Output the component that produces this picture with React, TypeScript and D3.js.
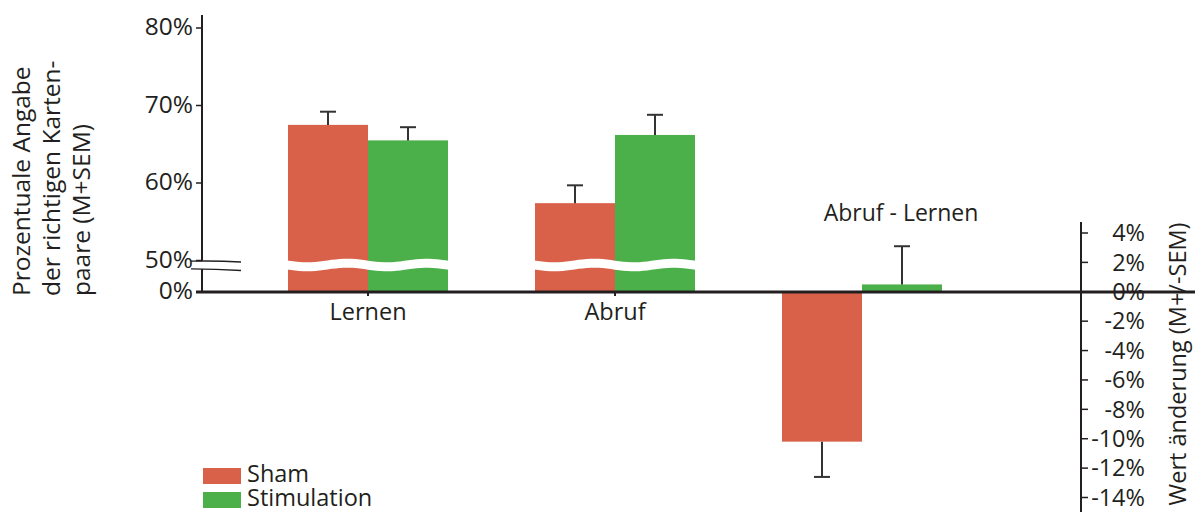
import React from "react";
import * as d3 from "d3";

const categories = ["Lernen", "Abruf"];
const diffCategory = "Abruf - Lernen";
const shamMeans = [67.5, 57.4];
const shamSem = [1.7, 2.3];
const stimMeans = [65.5, 66.2];
const stimSem = [1.7, 2.6];
const diffMeans = [-10.2, 0.5]; // Sham, Stimulation
const diffSem = [2.4, 2.6];
const leftTicks = [50, 60, 70, 80];
const rightTicks = [4, 2, 0, -2, -4, -6, -8, -10, -12, -14];
const seriesNames = ["Sham", "Stimulation"];
const colors = ["#d9614a", "#4bb04a"];

const W = 1195;
const H = 512;
const FONT = "'Open Sans', sans-serif";
const INK = "#231f20";

export default function App() {
  const xAxis = 202;
  const baseY = 292;
  const barW = 80;
  const x = d3.scalePoint<string>().domain([...categories, diffCategory]).range([368, 862]);
  const yL = d3.scaleLinear().domain([50, 80]).range([260.5, 28]);
  const yR = d3.scaleLinear().domain([-14, 4]).range([497.5, 233]);
  const rightX = 1081;

  const wave = (x0: number, x1: number, yTop: number, yBot: number) => {
    const pts: [number, number][] = [];
    const n = 40;
    for (let i = 0; i <= n; i++) {
      const xx = x0 + ((x1 - x0) * i) / n;
      pts.push([xx, yTop + 1.8 * Math.sin(((xx - x0) / 80) * Math.PI * 2)]);
    }
    for (let i = n; i >= 0; i--) {
      const xx = x0 + ((x1 - x0) * i) / n;
      pts.push([xx, yBot + 1.8 * Math.sin(((xx - x0) / 80) * Math.PI * 2)]);
    }
    return d3.line()(pts) + "Z";
  };

  const errBar = (cx: number, y0: number, y1: number, key: string) => (
    <g key={key} stroke="#333" strokeWidth={2}>
      <line x1={cx} x2={cx} y1={y0} y2={y1} />
      <line x1={cx - 8} x2={cx + 8} y1={y1} y2={y1} />
    </g>
  );

  return (
    <svg width={W} height={H} style={{ position: "absolute", left: 0, top: 0 }} fontFamily={FONT}>
      <rect width={W} height={H} fill="#fff" />
      {/* left bars */}
      {categories.map((c, i) => {
        const cx = x(c)!;
        return (
          <g key={c}>
            <rect x={cx - barW} y={yL(shamMeans[i])} width={barW} height={baseY - yL(shamMeans[i])} fill={colors[0]} />
            <rect x={cx} y={yL(stimMeans[i])} width={barW} height={baseY - yL(stimMeans[i])} fill={colors[1]} />
            <path d={wave(cx - barW - 1, cx + barW + 1, 260.5, 269.5)} fill="#fff" />
            {errBar(cx - barW / 2, yL(shamMeans[i]), yL(shamMeans[i] + shamSem[i]), "s" + i)}
            {errBar(cx + barW / 2, yL(stimMeans[i]), yL(stimMeans[i] + stimSem[i]), "t" + i)}
          </g>
        );
      })}
      {/* diff bars */}
      {(() => {
        const cx = x(diffCategory)!;
        return (
          <g>
            {diffMeans.map((v, i) => {
              const bx = i === 0 ? cx - barW : cx;
              return (
                <rect key={i} x={bx} y={Math.min(yR(v), yR(0))} width={barW} height={Math.abs(yR(v) - yR(0))} fill={colors[i]} />
              );
            })}
            {diffMeans.map((v, i) => {
              const bx = (i === 0 ? cx - barW : cx) + barW / 2;
              const end = v < 0 ? v - diffSem[i] : v + diffSem[i];
              return errBar(bx, yR(v), yR(end), "d" + i);
            })}
            <text x={cx + 39} y={221} textAnchor="middle" fontSize={23} fill={INK}>{diffCategory}</text>
          </g>
        );
      })()}
      {/* zero line */}
      <line x1={196} x2={W} y1={baseY} y2={baseY} stroke={INK} strokeWidth={3} />
      {/* category ticks & labels */}
      {categories.map((c) => (
        <g key={c}>
          <line x1={x(c)!} x2={x(c)!} y1={baseY} y2={baseY + 4} stroke={INK} strokeWidth={2} />
          <text x={x(c)!} y={320} textAnchor="middle" fontSize={23.5} fill={INK}>{c}</text>
        </g>
      ))}
      {/* left axis */}
      <line x1={xAxis} x2={xAxis} y1={15} y2={261} stroke={INK} strokeWidth={2} />
      <line x1={xAxis} x2={xAxis} y1={269} y2={baseY} stroke={INK} strokeWidth={2} />
      <path d="M191,261.2 Q216,260.6 241,262" fill="none" stroke={INK} strokeWidth={1.3} />
      <path d="M191,268.8 Q216,269 241,270.5" fill="none" stroke={INK} strokeWidth={1.3} />
      {leftTicks.map((t) => (
        <g key={t}>
          <line x1={xAxis - 6} x2={xAxis} y1={yL(t)} y2={yL(t)} stroke={INK} strokeWidth={1.5} />
          <text x={193} y={yL(t)} dy="0.3em" textAnchor="end" fontSize={24.5} fill={INK}>{t}%</text>
        </g>
      ))}
      <text x={193} y={baseY} dy="0.3em" textAnchor="end" fontSize={24.5} fill={INK}>0%</text>
      {/* left title */}
      {["Prozentuale Angabe", "der richtigen Karten-", "paare (M+SEM)"].map((s, i) => (
        <text key={s} transform={`translate(${30 + i * 30},296) rotate(-90)`} fontSize={24.5} fill={INK}>{s}</text>
      ))}
      {/* right axis */}
      <line x1={rightX} x2={rightX} y1={222} y2={H} stroke={INK} strokeWidth={2} />
      {rightTicks.map((t) => (
        <g key={t}>
          <line x1={rightX} x2={rightX + 7} y1={yR(t)} y2={yR(t)} stroke={INK} strokeWidth={1.5} />
          <text x={1145} y={yR(t)} dy="0.35em" textAnchor="end" fontSize={23.5} fill={INK}>{t}%</text>
        </g>
      ))}
      <text transform={`translate(1186,364) rotate(-90)`} textAnchor="middle" fontSize={23.5} fill={INK}>Wert änderung (M+/-SEM)</text>
      {/* legend */}
      {seriesNames.map((s, i) => (
        <g key={s}>
          <rect x={203} y={468 + i * 24} width={38} height={16} fill={colors[i]} />
          <text x={247} y={482 + i * 24} fontSize={23.5} fill={INK}>{s}</text>
        </g>
      ))}
    </svg>
  );
}
